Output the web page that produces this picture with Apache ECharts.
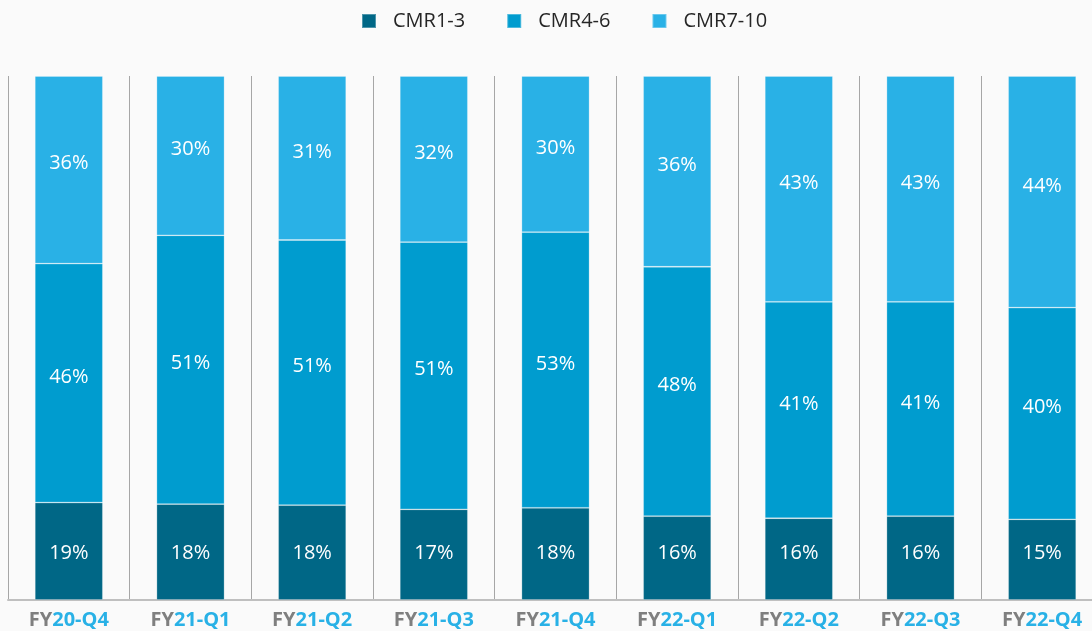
<!DOCTYPE html>
<html>
<head>
<meta charset="utf-8">
<script src="https://cdn.jsdelivr.net/npm/echarts@6/dist/echarts.min.js"></script>
<style>
html,body{margin:0;padding:0;background:#FAFAFA;}
#chart{width:1092px;height:631px;}
</style>
</head>
<body>
<div id="chart"></div>
<script>
var categories = ['20-Q4','21-Q1','21-Q2','21-Q3','21-Q4','22-Q1','22-Q2','22-Q3','22-Q4'];
var categoryPrefix = 'FY';
var seriesNames = ['CMR1-3','CMR4-6','CMR7-10'];
var cmr13 = [18.6, 18.3, 18.1, 17.3, 17.6, 16.0, 15.6, 16.0, 15.4];
var cmr46 = [45.6, 51.3, 50.6, 51.0, 52.6, 47.6, 41.3, 40.9, 40.4];
var cmr710 = [35.8, 30.4, 31.3, 31.7, 29.8, 36.4, 43.1, 43.1, 44.2];

var colors = ['#006786', '#009CCF', '#29B1E6'];
var chart = echarts.init(document.getElementById('chart'), null, {renderer:'canvas'});

function mkSeries(name, data, color, labelPos, offY, dist) {
  return {
    name: name,
    type: 'bar',
    stack: 'total',
    data: data,
    barWidth: 68,
    itemStyle: { color: color, borderColor: 'rgba(255,255,255,0.3)', borderWidth: 0.8 },
    label: {
      show: true,
      position: labelPos,
      distance: dist,
      offset: [0, offY],
      color: '#FFFFFF',
      fontFamily: 'Open Sans',
      fontSize: 20,
      formatter: function (p) { return Math.round(p.value) + '%'; }
    },
    emphasis: { disabled: true }
  };
}

chart.setOption({
  backgroundColor: '#FAFAFA',
  animation: false,
  color: colors,
  legend: {
    top: 6,
    left: 356,
    itemWidth: 14,
    itemHeight: 14,
    itemGap: 41,
    icon: 'rect',
    textStyle: { fontFamily: 'Open Sans', fontSize: 20, color: '#262626', padding: [0,0,0,12] },
    data: seriesNames
  },
  grid: { left: 8, width: 1095, top: 76, bottom: 31, containLabel: false, outerBoundsMode: 'none' },
  xAxis: {
    type: 'category',
    data: categories,
    boundaryGap: true,
    axisLine: { show: true, lineStyle: { color: '#BFBFBF', width: 2 } },
    axisTick: { show: false },
    splitLine: { show: true, lineStyle: { color: '#A6A6A6', width: 1 } },
    axisLabel: {
      margin: 10,
      interval: 0,
      formatter: function (v) { return '{a|' + categoryPrefix + '}{b|' + v + '}'; },
      rich: {
        a: { color: '#7F7F7F', fontFamily: 'Open Sans', fontWeight: 'bold', fontSize: 20 },
        b: { color: '#29B1E6', fontFamily: 'Open Sans', fontWeight: 'bold', fontSize: 20 }
      }
    }
  },
  yAxis: {
    type: 'value',
    min: 0,
    max: 100,
    show: false,
    splitLine: { show: false }
  },
  series: [
    mkSeries(seriesNames[0], cmr13, colors[0], 'insideBottom', 0, 37),
    mkSeries(seriesNames[1], cmr46, colors[1], 'inside', -6, 5),
    mkSeries(seriesNames[2], cmr710, colors[2], 'inside', -6, 5)
  ]
});
</script>
</body>
</html>
